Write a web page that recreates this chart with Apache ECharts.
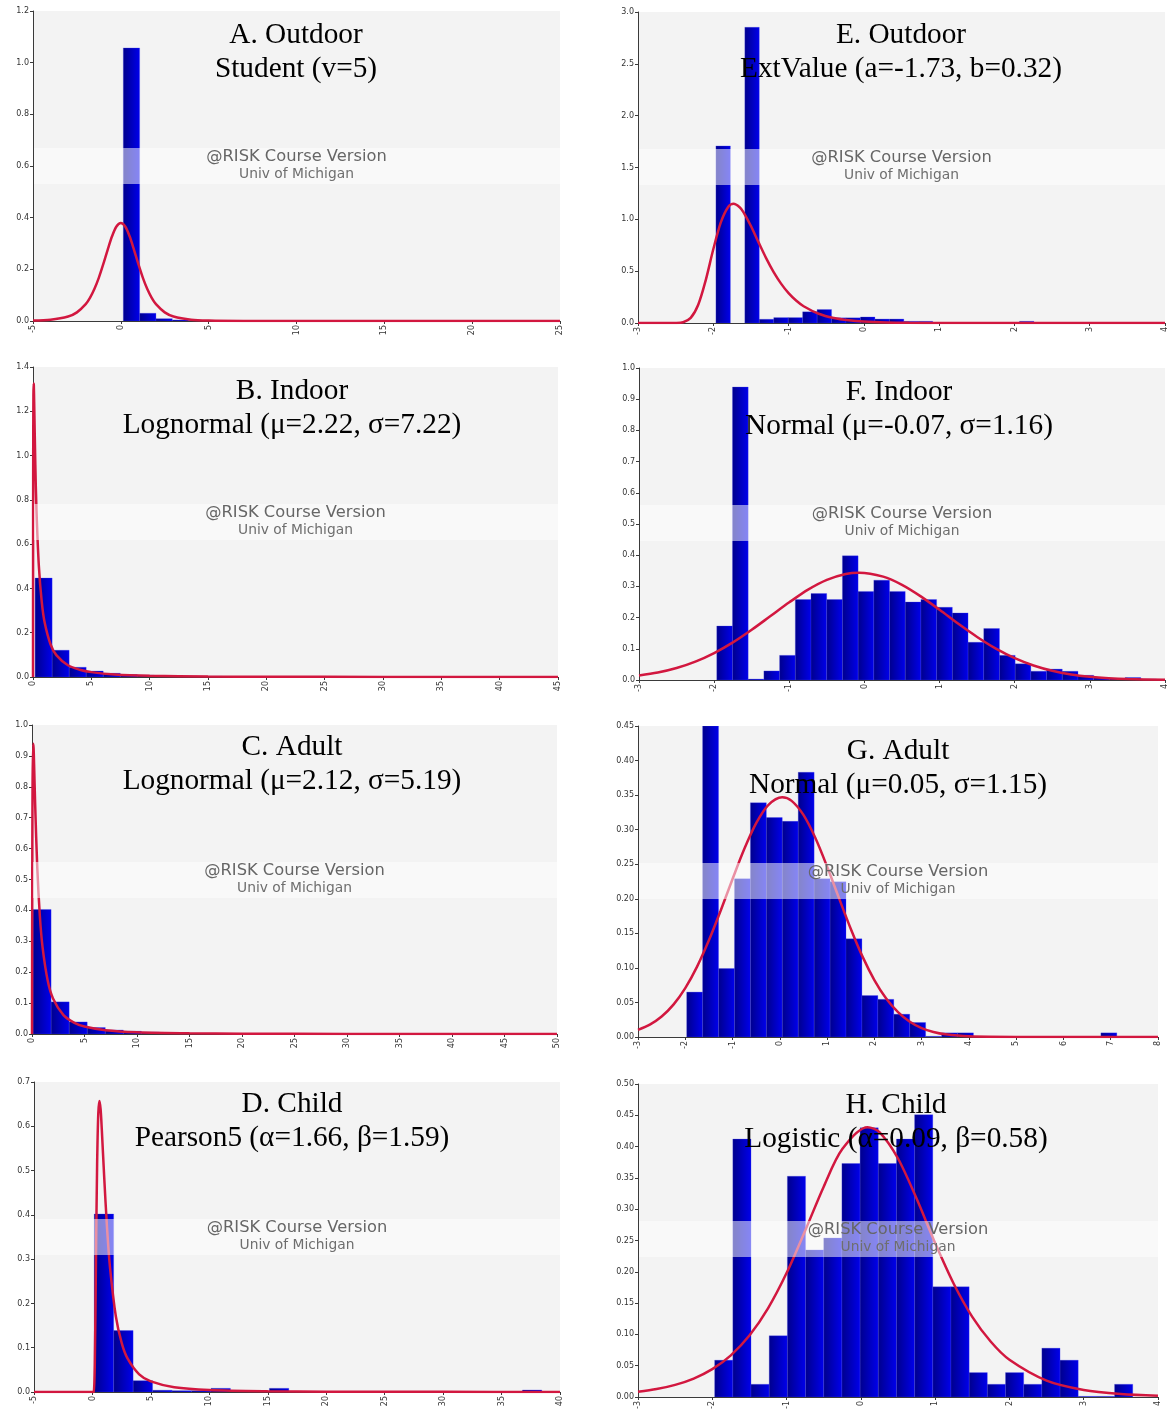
<!DOCTYPE html>
<html>
<head>
<meta charset="utf-8">
<script src="https://cdn.jsdelivr.net/npm/echarts@6/dist/echarts.min.js"></script>
<style>
html,body{margin:0;padding:0;background:#ffffff;}
#chart{width:1171px;height:1412px;}
</style>
</head>
<body>
<div id="chart"></div>
<script>
// ================= DATA =================
// Titles
const titleA = ['A. Outdoor', 'Student (v=5)'];
const titleB = ['B. Indoor', 'Lognormal (\u03bc=2.22, \u03c3=7.22)'];
const titleC = ['C. Adult', 'Lognormal (\u03bc=2.12, \u03c3=5.19)'];
const titleD = ['D. Child', 'Pearson5 (\u03b1=1.66, \u03b2=1.59)'];
const titleE = ['E. Outdoor', 'ExtValue (a=-1.73, b=0.32)'];
const titleF = ['F. Indoor', 'Normal (\u03bc=-0.07, \u03c3=1.16)'];
const titleG = ['G. Adult', 'Normal (\u03bc=0.05, \u03c3=1.15)'];
const titleH = ['H. Child', 'Logistic (\u03b1=0.09, \u03b2=0.58)'];
const watermark = ['@RISK Course Version', 'Univ of Michigan'];

// Axis ticks: [min, max, interval]
const xTicksA = [-5, 25, 5],   yTicksA = [0, 1.2, 0.2];
const xTicksB = [0, 45, 5],    yTicksB = [0, 1.4, 0.2];
const xTicksC = [0, 50, 5],    yTicksC = [0, 1.0, 0.1];
const xTicksD = [-5, 40, 5],   yTicksD = [0, 0.7, 0.1];
const xTicksE = [-3, 4, 1],    yTicksE = [0, 3.0, 0.5];
const xTicksF = [-3, 4, 1],    yTicksF = [0, 1.0, 0.1];
const xTicksG = [-3, 8, 1],    yTicksG = [0, 0.45, 0.05];
const xTicksH = [-3, 4, 1],    yTicksH = [0, 0.50, 0.05];

// Histogram bins: [first bin start, bin width] and bar heights (density)
const binA = [0.14, 0.93];
const histA = [1.057, 0.030, 0.009, 0.004, 0.002];
const binB = [0.18, 1.46];
const histB = [0.447, 0.121, 0.044, 0.027, 0.017, 0.011, 0.008, 0.006, 0.004, 0.003, 0.003];
const binC = [0.10, 1.72];
const histC = [0.403, 0.104, 0.039, 0.021, 0.013, 0.009, 0.006, 0.003, 0.002, 0.002];
const binD = [0.15, 1.665];
const histD = [0.402, 0.1386, 0.0256, 0.004, 0.003, 0.003, 0.0083, 0.002, 0.001, 0.0083, 0.001,
               0, 0, 0, 0, 0, 0, 0, 0, 0, 0, 0, 0.0045];
const binE = [-1.965, 0.192];
const histE = [1.708, 0, 2.852, 0.036, 0.052, 0.052, 0.108, 0.130, 0.050, 0.050, 0.058, 0.038,
               0.038, 0.016, 0.016, 0, 0, 0, 0, 0, 0, 0.016];
const binF = [-1.965, 0.209];
const histF = [0.173, 0.939, 0.003, 0.029, 0.079, 0.258, 0.277, 0.258, 0.398, 0.284, 0.320, 0.284,
               0.250, 0.258, 0.233, 0.215, 0.121, 0.165, 0.079, 0.052, 0.028, 0.035, 0.028, 0.015,
               0.007, 0.005, 0.008, 0.003];
const binG = [-1.97, 0.337];
const histG = [0.065, 0.47, 0.099, 0.229, 0.339, 0.3175, 0.312, 0.383, 0.229, 0.2245, 0.142, 0.060,
               0.0545, 0.033, 0.021, 0.001, 0.006, 0.006, 0, 0, 0, 0, 0, 0, 0, 0, 0.006];
const binH = [-1.968, 0.2447];
const histH = [0.0588, 0.412, 0.0203, 0.0978, 0.3526, 0.235, 0.254, 0.373, 0.430, 0.373, 0.412, 0.451,
               0.176, 0.176, 0.039, 0.0203, 0.039, 0.0203, 0.078, 0.0588, 0.001, 0.001, 0.0203];

// Fitted curves: [x, density]
const curveA = [[-5,0.0018],[-4,0.0051],[-3,0.0173],[-2.5,0.0333],[-2,0.0651],[-1.75,0.0905],[-1.5,0.1245],
  [-1.25,0.1679],[-1,0.2197],[-0.75,0.2757],[-0.5,0.3279],[-0.25,0.3657],[0,0.3796],[0.25,0.3657],[0.5,0.3279],
  [0.75,0.2757],[1,0.2197],[1.25,0.1679],[1.5,0.1245],[1.75,0.0905],[2,0.0651],[2.5,0.0333],[3,0.0173],
  [4,0.0051],[5,0.0018],[7,0.0003],[10,0.00004],[25,0]];
const curveB = [[0,0],[0.005,0.40],[0.01,0.722],[0.02,1.068],[0.035,1.269],[0.05,1.326],[0.07,1.317],[0.1,1.243],
  [0.2,0.958],[0.3,0.751],[0.5,0.503],[0.75,0.339],[1,0.246],[1.5,0.148],[2,0.099],[3,0.053],[4,0.033],
  [5,0.022],[7,0.0115],[10,0.0056],[15,0.0023],[20,0.0012],[30,0.0004],[45,0.00015]];
const curveC = [[0,0],[0.01,0.204],[0.02,0.431],[0.05,0.791],[0.1,0.939],[0.15,0.926],[0.2,0.872],[0.3,0.744],
  [0.5,0.540],[0.75,0.381],[1,0.283],[1.5,0.172],[2,0.115],[3,0.061],[4,0.037],[5,0.024],[7,0.0122],
  [10,0.0056],[15,0.0021],[20,0.001],[30,0.0003],[50,0.0001]];
const curveD = [[-5,0],[0,0],[0.1,0.0001],[0.2,0.061],[0.3,0.294],[0.4,0.514],[0.5,0.629],[0.6,0.657],
  [0.7,0.638],[0.8,0.593],[1,0.488],[1.25,0.370],[1.5,0.282],[2,0.171],[2.5,0.111],[3,0.076],[4,0.040],
  [5,0.024],[7,0.0108],[10,0.0045],[15,0.0016],[20,0.0008],[30,0.0003],[40,0.0001]];
const curveE = [[-3,0],[-2.6,0],[-2.5,0.0005],[-2.4,0.0076],[-2.3,0.049],[-2.2,0.176],[-2.1,0.414],[-2.0,0.711],
  [-1.9,0.970],[-1.8,1.121],[-1.73,1.150],[-1.65,1.117],[-1.6,1.070],[-1.5,0.936],[-1.4,0.780],[-1.3,0.628],
  [-1.2,0.493],[-1.1,0.380],[-1.0,0.288],[-0.9,0.217],[-0.8,0.162],[-0.6,0.089],[-0.4,0.048],[-0.2,0.026],
  [0,0.014],[0.3,0.0055],[0.6,0.0021],[1,0.0006],[2,0],[4,0]];
const curveF = [[-3,0.0142],[-2.75,0.0238],[-2.5,0.0383],[-2.25,0.0588],[-2,0.0862],[-1.75,0.1205],[-1.5,0.161],
  [-1.25,0.205],[-1,0.249],[-0.75,0.2897],[-0.5,0.321],[-0.25,0.3399],[-0.07,0.344],[0.25,0.3312],[0.5,0.305],
  [0.75,0.268],[1,0.225],[1.25,0.180],[1.5,0.138],[1.75,0.1005],[2,0.070],[2.25,0.0466],[2.5,0.0296],
  [2.75,0.0179],[3,0.0104],[3.25,0.0057],[3.5,0.003],[4,0.0007]];
const curveG = [[-3,0.0103],[-2.75,0.0179],[-2.5,0.0297],[-2.25,0.0469],[-2,0.0708],[-1.75,0.1019],[-1.5,0.1399],
  [-1.25,0.1831],[-1,0.2286],[-0.75,0.2723],[-0.5,0.3094],[-0.25,0.3353],[0.05,0.3469],[0.25,0.3417],
  [0.5,0.3213],[0.75,0.2882],[1,0.2466],[1.25,0.2013],[1.5,0.1567],[1.75,0.1163],[2,0.0824],[2.25,0.0556],
  [2.5,0.0359],[2.75,0.022],[3,0.0129],[3.25,0.0072],[3.5,0.0039],[4,0.001],[5,0.0001],[8,0]];
const curveH = [[-3,0.0083],[-2.75,0.0127],[-2.5,0.0194],[-2.25,0.0295],[-2,0.0445],[-1.75,0.0666],[-1.5,0.0982],
  [-1.25,0.1417],[-1,0.198],[-0.75,0.2657],[-0.5,0.336],[-0.25,0.396],[0.09,0.431],[0.25,0.423],[0.5,0.381],
  [0.75,0.3169],[1,0.246],[1.25,0.181],[1.5,0.128],[1.75,0.0882],[2,0.0595],[2.5,0.0262],[3,0.0113],
  [3.5,0.0048],[4,0.002]];

// ================= LAYOUT / BUILD =================
const panels = [
  {title: titleA, bin: binA, hist: histA, curve: curveA, xt: xTicksA, yt: yTicksA, dec: 1, box: [33, 11, 527, 310],  tpos: [296, 35]},
  {title: titleB, bin: binB, hist: histB, curve: curveB, xt: xTicksB, yt: yTicksB, dec: 1, box: [33, 367, 525, 310], tpos: [292, 391]},
  {title: titleC, bin: binC, hist: histC, curve: curveC, xt: xTicksC, yt: yTicksC, dec: 1, box: [32, 725, 525, 309], tpos: [292, 747]},
  {title: titleD, bin: binD, hist: histD, curve: curveD, xt: xTicksD, yt: yTicksD, dec: 1, box: [34, 1082, 526, 310],tpos: [292, 1104]},
  {title: titleE, bin: binE, hist: histE, curve: curveE, xt: xTicksE, yt: yTicksE, dec: 1, box: [638, 12, 527, 311], tpos: [901, 35]},
  {title: titleF, bin: binF, hist: histF, curve: curveF, xt: xTicksF, yt: yTicksF, dec: 1, box: [639, 368, 526, 312],tpos: [899, 392]},
  {title: titleG, bin: binG, hist: histG, curve: curveG, xt: xTicksG, yt: yTicksG, dec: 2, box: [638, 726, 520, 311],tpos: [898, 751]},
  {title: titleH, bin: binH, hist: histH, curve: curveH, xt: xTicksH, yt: yTicksH, dec: 2, box: [638, 1084, 520, 313],tpos: [896, 1105]}
];

const axisColor = '#3a3a3a';
const labelFont = 'DejaVu Sans';

function barGradient() {
  return new echarts.graphic.LinearGradient(0, 0, 1, 0, [
    {offset: 0, color: '#00008c'},
    {offset: 1, color: '#0000ec'}
  ]);
}

function renderBars(params, api) {
  const x0 = api.value(0), x1 = api.value(1), h = api.value(2);
  if (!(h > 0)) return null;
  const p0 = api.coord([x0, h]);
  const p1 = api.coord([x1, 0]);
  const cs = params.coordSys;
  const shape = echarts.graphic.clipRectByRect(
    {x: p0[0], y: p0[1], width: p1[0] - p0[0], height: p1[1] - p0[1]},
    {x: cs.x, y: cs.y, width: cs.width, height: cs.height}
  );
  if (!shape) return null;
  return {
    type: 'rect',
    shape: shape,
    style: {fill: barGradient(), stroke: 'rgba(70,70,240,0.55)', lineWidth: 0.5}
  };
}

const grid = [], xAxis = [], yAxis = [], series = [], elements = [];

panels.forEach((p, i) => {
  const [left, top, width, height] = p.box;
  grid.push({left, top, width, height, show: true, backgroundColor: '#f3f3f3', borderWidth: 0, containLabel: false});
  xAxis.push({
    gridIndex: i, type: 'value', min: p.xt[0], max: p.xt[1], interval: p.xt[2],
    axisLine: {show: true, onZero: false, lineStyle: {color: axisColor, width: 1}},
    axisTick: {show: true, length: 3, lineStyle: {color: axisColor}},
    axisLabel: {rotate: 90, fontSize: 8, color: '#333', fontFamily: labelFont, margin: 4,
                showMinLabel: true, showMaxLabel: true, formatter: v => String(v)},
    splitLine: {show: false}
  });
  yAxis.push({
    gridIndex: i, type: 'value', min: p.yt[0], max: p.yt[1], interval: p.yt[2],
    axisLine: {show: true, onZero: false, lineStyle: {color: axisColor, width: 1}},
    axisTick: {show: true, length: 3, lineStyle: {color: axisColor}},
    axisLabel: {fontSize: 8, color: '#333', fontFamily: labelFont, margin: 4,
                showMinLabel: true, showMaxLabel: true, formatter: v => v.toFixed(p.dec)},
    splitLine: {show: false}
  });
  const bars = p.hist.map((h, k) => [p.bin[0] + k * p.bin[1], p.bin[0] + (k + 1) * p.bin[1], h]);
  series.push({
    type: 'custom', xAxisIndex: i, yAxisIndex: i, renderItem: renderBars, data: bars,
    encode: {x: [0, 1], y: 2}, z: 2, silent: true, clip: true
  });
  series.push({
    type: 'line', xAxisIndex: i, yAxisIndex: i, data: p.curve, showSymbol: false, symbol: 'none',
    smooth: 0.3, lineStyle: {color: '#d2173f', width: 2.5}, z: 3, silent: true, clip: true
  });
  // watermark band
  const cx = left + width / 2;
  elements.push({type: 'rect', shape: {x: left + 1, y: top + 137, width: width - 1, height: 36},
                 style: {fill: 'rgba(255,255,255,0.52)'}, z: 100, silent: true});
  elements.push({type: 'text', x: cx, y: top + 146, z: 101, silent: true,
                 style: {text: watermark[0], font: '16.3px "DejaVu Sans"', fill: '#666666',
                         align: 'center', verticalAlign: 'middle', textAlign: 'center', textVerticalAlign: 'middle'}});
  elements.push({type: 'text', x: cx, y: top + 163, z: 101, silent: true,
                 style: {text: watermark[1], font: '13.8px "DejaVu Sans"', fill: '#6e6e6e',
                         align: 'center', verticalAlign: 'middle', textAlign: 'center', textVerticalAlign: 'middle'}});
  // title lines
  p.title.forEach((t, k) => {
    elements.push({type: 'text', x: p.tpos[0], y: p.tpos[1] + k * 34, z: 110, silent: true,
                   style: {text: t, font: '29.3px "Liberation Serif"', fill: '#000000',
                           align: 'center', verticalAlign: 'middle', textAlign: 'center', textVerticalAlign: 'middle'}});
  });
});

const chart = echarts.init(document.getElementById('chart'), null, {renderer: 'canvas'});
chart.setOption({
  animation: false,
  backgroundColor: '#ffffff',
  grid, xAxis, yAxis, series,
  graphic: {elements}
});
</script>
</body>
</html>
